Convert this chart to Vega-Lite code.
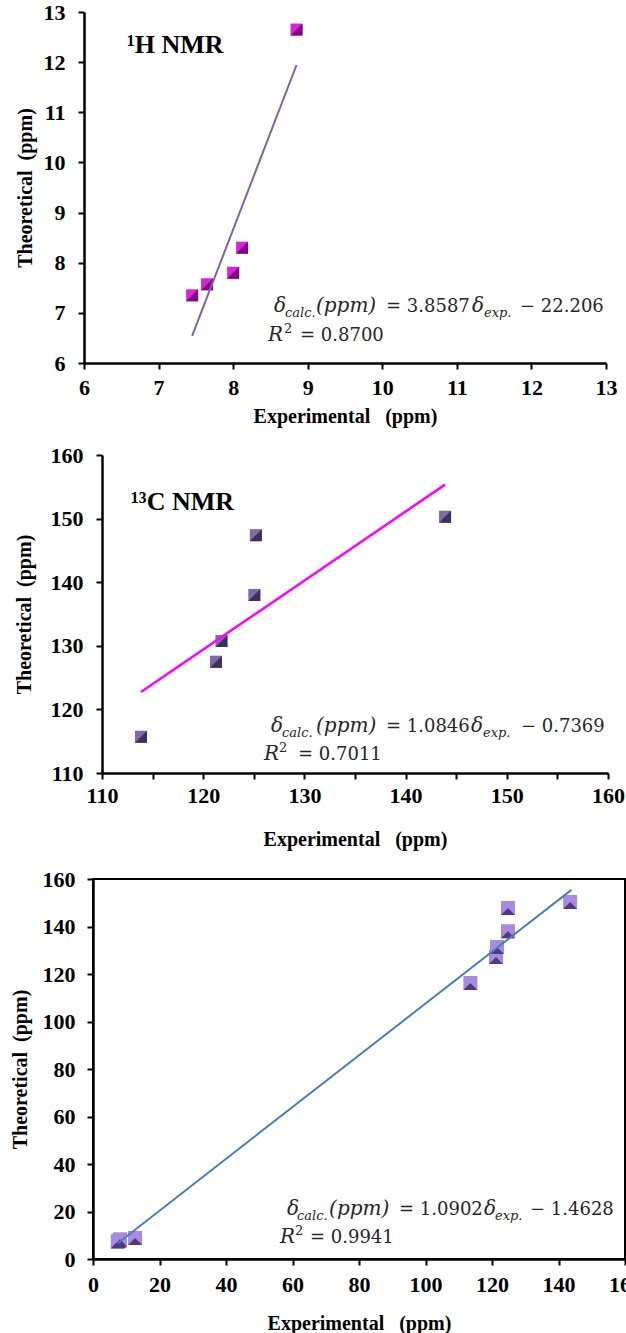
{
  "$schema": "https://vega.github.io/schema/vega-lite/v6.json",
  "padding": {"left": 0, "top": 1, "right": 0, "bottom": 0},
  "background": "white",
  "spacing": 18,
  "config": {
    "axis": {
      "domainColor": "black", "domainWidth": 2.5, "tickColor": "black", "tickWidth": 2, "tickSize": 6,
      "labelFont": "Liberation Serif", "labelFontWeight": "bold", "labelFontSize": 22, "labelColor": "black",
      "titleFont": "Liberation Serif", "titleFontWeight": "bold", "titleFontSize": 20, "titleColor": "black",
      "grid": false, "labelFlush": false, "labelOverlap": false, "labelBound": false
    }
  },
  "datasets": {
    "spacer": [{"k": 0}],
    "h_pts": [
      {"x": 7.45, "y": 7.35}, {"x": 7.65, "y": 7.57}, {"x": 8.0, "y": 7.8}, {"x": 8.12, "y": 8.3}, {"x": 8.85, "y": 12.65}
    ],
    "h_line": [{"x": 7.45, "y": 6.541}, {"x": 8.85, "y": 11.943}],
    "h_title": [{"x": 6.577, "y": 12.18, "t": "¹H NMR"}],
    "h_eq": [
      {"x": 8.548, "y": 7.017, "t": "δ", "part": "sym"},
      {"x": 8.695, "y": 7.017, "t": "calc.", "part": "sub"},
      {"x": 9.111, "y": 7.017, "t": "(ppm)", "part": "sym"},
      {"x": 10.05, "y": 7.017, "t": "= 3.8587", "part": "num"},
      {"x": 11.203, "y": 7.017, "t": "δ", "part": "sym"},
      {"x": 11.364, "y": 7.017, "t": "exp.", "part": "sub"},
      {"x": 11.847, "y": 7.017, "t": "− 22.206", "part": "num"},
      {"x": 8.467, "y": 6.438, "t": "R", "part": "sym"},
      {"x": 8.682, "y": 6.438, "t": "2", "part": "sup"},
      {"x": 8.897, "y": 6.438, "t": "= 0.8700", "part": "num"}
    ],
    "c_pts": [
      {"x": 113.85, "y": 115.7}, {"x": 121.26, "y": 127.5}, {"x": 121.8, "y": 130.75},
      {"x": 125.05, "y": 138.0}, {"x": 125.2, "y": 147.4}, {"x": 143.9, "y": 150.3}
    ],
    "c_line": [{"x": 113.85, "y": 122.74}, {"x": 143.9, "y": 155.34}],
    "c_title": [{"x": 112.87, "y": 151.35, "t": "¹³C NMR"}],
    "c_eq": [
      {"x": 126.70, "y": 116.45, "t": "δ", "part": "sym"},
      {"x": 127.79, "y": 116.45, "t": "calc.", "part": "sub"},
      {"x": 131.15, "y": 116.45, "t": "(ppm)", "part": "sym"},
      {"x": 138.06, "y": 116.45, "t": "= 1.0846", "part": "num"},
      {"x": 146.46, "y": 116.45, "t": "δ", "part": "sym"},
      {"x": 147.65, "y": 116.45, "t": "exp.", "part": "sub"},
      {"x": 151.40, "y": 116.45, "t": "− 0.7369", "part": "num"},
      {"x": 126.01, "y": 112.04, "t": "R", "part": "sym"},
      {"x": 127.49, "y": 112.04, "t": "2", "part": "sup"},
      {"x": 129.37, "y": 112.04, "t": "= 0.7011", "part": "num"}
    ],
    "a_pts": [
      {"x": 7.45, "y": 7.35}, {"x": 7.65, "y": 7.57}, {"x": 8.0, "y": 7.8}, {"x": 8.12, "y": 8.3}, {"x": 12.65, "y": 8.85},
      {"x": 113.5, "y": 116.2}, {"x": 121.2, "y": 127.2}, {"x": 121.5, "y": 131.4},
      {"x": 124.8, "y": 138.0}, {"x": 124.8, "y": 147.8}, {"x": 143.5, "y": 150.3}
    ],
    "a_line": [{"x": 7.45, "y": 6.659}, {"x": 143.9, "y": 155.42}],
    "a_eq": [
      {"x": 58.35, "y": 18.53, "t": "δ", "part": "sym"},
      {"x": 61.35, "y": 18.53, "t": "calc.", "part": "sub"},
      {"x": 71.0, "y": 18.53, "t": "(ppm)", "part": "sym"},
      {"x": 92.03, "y": 18.53, "t": "= 1.0902", "part": "num"},
      {"x": 117.59, "y": 18.53, "t": "δ", "part": "sym"},
      {"x": 120.90, "y": 18.53, "t": "exp.", "part": "sub"},
      {"x": 131.43, "y": 18.53, "t": "− 1.4628", "part": "num"},
      {"x": 56.24, "y": 6.74, "t": "R", "part": "sym"},
      {"x": 60.75, "y": 6.74, "t": "2", "part": "sup"},
      {"x": 65.26, "y": 6.74, "t": "= 0.9941", "part": "num"}
    ]
  },
  "vconcat": [
    {
      "spacing": 0,
      "hconcat": [
        {"width": 15, "height": 1, "view": {"stroke": null}, "data": {"name": "spacer"}, "mark": {"type": "point", "opacity": 0}, "encoding": {}},
        {
          "width": 522, "height": 351,
          "view": {"stroke": null},
          "layer": [
            {
              "data": {"name": "h_pts"},
              "mark": {"type": "point", "shape": "square", "filled": true, "size": 144, "color": "#DA22DA", "opacity": 1},
              "encoding": {
                "x": {"field": "x", "type": "quantitative", "scale": {"domain": [6, 13], "nice": false, "zero": false},
                      "axis": {"values": [6, 7, 8, 9, 10, 11, 12, 13], "format": "d", "labelPadding": 8, "titlePadding": 8},
                      "title": "Experimental\u00a0\u00a0 (ppm)"},
                "y": {"field": "y", "type": "quantitative", "scale": {"domain": [6, 13], "nice": false, "zero": false},
                      "axis": {"values": [6, 7, 8, 9, 10, 11, 12, 13], "format": "d", "labelPadding": 13, "titlePadding": 8},
                      "title": "Theoretical\u00a0 (ppm)"}
              }
            },
            {
              "data": {"name": "h_pts"},
              "mark": {"type": "point", "shape": "M1,-1L1,1L-1,1Z", "filled": true, "size": 144, "color": "#7E0B7E", "opacity": 1},
              "encoding": {"x": {"field": "x", "type": "quantitative"}, "y": {"field": "y", "type": "quantitative"}}
            },
            {
              "data": {"name": "h_line"},
              "mark": {"type": "line", "color": "#8064A2", "strokeWidth": 2},
              "encoding": {"x": {"field": "x", "type": "quantitative"}, "y": {"field": "y", "type": "quantitative"}}
            },
            {
              "data": {"name": "h_title"},
              "mark": {"type": "text", "align": "left", "baseline": "alphabetic", "font": "Liberation Serif", "fontWeight": "bold", "fontSize": 26, "color": "black"},
              "encoding": {"x": {"field": "x", "type": "quantitative"}, "y": {"field": "y", "type": "quantitative"}, "text": {"field": "t"}}
            },
            {
              "data": {"name": "h_eq"}, "transform": [{"filter": "datum.part == 'sym'"}],
              "mark": {"type": "text", "align": "left", "baseline": "alphabetic", "font": "DejaVu Serif", "fontStyle": "italic", "fontSize": 20, "color": "#262626"},
              "encoding": {"x": {"field": "x", "type": "quantitative"}, "y": {"field": "y", "type": "quantitative"}, "text": {"field": "t"}}
            },
            {
              "data": {"name": "h_eq"}, "transform": [{"filter": "datum.part == 'num'"}],
              "mark": {"type": "text", "align": "left", "baseline": "alphabetic", "font": "DejaVu Serif", "fontSize": 18, "color": "#262626"},
              "encoding": {"x": {"field": "x", "type": "quantitative"}, "y": {"field": "y", "type": "quantitative"}, "text": {"field": "t"}}
            },
            {
              "data": {"name": "h_eq"}, "transform": [{"filter": "datum.part == 'sub'"}],
              "mark": {"type": "text", "align": "left", "baseline": "alphabetic", "dy": 5, "font": "DejaVu Serif", "fontStyle": "italic", "fontSize": 13, "color": "#262626"},
              "encoding": {"x": {"field": "x", "type": "quantitative"}, "y": {"field": "y", "type": "quantitative"}, "text": {"field": "t"}}
            },
            {
              "data": {"name": "h_eq"}, "transform": [{"filter": "datum.part == 'sup'"}],
              "mark": {"type": "text", "align": "left", "baseline": "alphabetic", "dy": -8, "font": "DejaVu Serif", "fontSize": 13, "color": "#262626"},
              "encoding": {"x": {"field": "x", "type": "quantitative"}, "y": {"field": "y", "type": "quantitative"}, "text": {"field": "t"}}
            }
          ]
        }
      ]
    },
    {
      "spacing": 0,
      "hconcat": [
        {"width": 14, "height": 1, "view": {"stroke": null}, "data": {"name": "spacer"}, "mark": {"type": "point", "opacity": 0}, "encoding": {}},
        {
          "width": 506, "height": 318,
          "view": {"stroke": null},
          "layer": [
            {
              "data": {"name": "c_pts"},
              "mark": {"type": "point", "shape": "square", "filled": true, "size": 144, "color": "#7F69A8", "opacity": 1},
              "encoding": {
                "x": {"field": "x", "type": "quantitative", "scale": {"domain": [110, 160], "nice": false, "zero": false},
                      "axis": {"values": [110, 115, 120, 125, 130, 135, 140, 145, 150, 155, 160], "labelExpr": "datum.value % 10 == 0 ? datum.label : ''", "labelPadding": 6, "titlePadding": 23},
                      "title": "Experimental\u00a0\u00a0 (ppm)"},
                "y": {"field": "y", "type": "quantitative", "scale": {"domain": [110, 160], "nice": false, "zero": false},
                      "axis": {"values": [110, 115, 120, 125, 130, 135, 140, 145, 150, 155, 160], "labelExpr": "datum.value % 10 == 0 ? datum.label : ''", "labelPadding": 13, "titlePadding": 16},
                      "title": "Theoretical\u00a0 (ppm)"}
              }
            },
            {
              "data": {"name": "c_pts"},
              "mark": {"type": "point", "shape": "M1,-1L1,1L-1,1Z", "filled": true, "size": 144, "color": "#3E2E5C", "opacity": 1},
              "encoding": {"x": {"field": "x", "type": "quantitative"}, "y": {"field": "y", "type": "quantitative"}}
            },
            {
              "data": {"name": "c_line"},
              "mark": {"type": "line", "color": "#FF00FF", "strokeWidth": 2.5},
              "encoding": {"x": {"field": "x", "type": "quantitative"}, "y": {"field": "y", "type": "quantitative"}}
            },
            {
              "data": {"name": "c_title"},
              "mark": {"type": "text", "align": "left", "baseline": "alphabetic", "font": "Liberation Serif", "fontWeight": "bold", "fontSize": 26, "color": "black"},
              "encoding": {"x": {"field": "x", "type": "quantitative"}, "y": {"field": "y", "type": "quantitative"}, "text": {"field": "t"}}
            },
            {
              "data": {"name": "c_eq"}, "transform": [{"filter": "datum.part == 'sym'"}],
              "mark": {"type": "text", "align": "left", "baseline": "alphabetic", "font": "DejaVu Serif", "fontStyle": "italic", "fontSize": 20, "color": "#262626"},
              "encoding": {"x": {"field": "x", "type": "quantitative"}, "y": {"field": "y", "type": "quantitative"}, "text": {"field": "t"}}
            },
            {
              "data": {"name": "c_eq"}, "transform": [{"filter": "datum.part == 'num'"}],
              "mark": {"type": "text", "align": "left", "baseline": "alphabetic", "font": "DejaVu Serif", "fontSize": 18, "color": "#262626"},
              "encoding": {"x": {"field": "x", "type": "quantitative"}, "y": {"field": "y", "type": "quantitative"}, "text": {"field": "t"}}
            },
            {
              "data": {"name": "c_eq"}, "transform": [{"filter": "datum.part == 'sub'"}],
              "mark": {"type": "text", "align": "left", "baseline": "alphabetic", "dy": 5, "font": "DejaVu Serif", "fontStyle": "italic", "fontSize": 13, "color": "#262626"},
              "encoding": {"x": {"field": "x", "type": "quantitative"}, "y": {"field": "y", "type": "quantitative"}, "text": {"field": "t"}}
            },
            {
              "data": {"name": "c_eq"}, "transform": [{"filter": "datum.part == 'sup'"}],
              "mark": {"type": "text", "align": "left", "baseline": "alphabetic", "dy": -8, "font": "DejaVu Serif", "fontSize": 13, "color": "#262626"},
              "encoding": {"x": {"field": "x", "type": "quantitative"}, "y": {"field": "y", "type": "quantitative"}, "text": {"field": "t"}}
            }
          ]
        }
      ]
    },
    {
      "spacing": 0,
      "hconcat": [
        {"width": 9, "height": 1, "view": {"stroke": null}, "data": {"name": "spacer"}, "mark": {"type": "point", "opacity": 0}, "encoding": {}},
        {
          "width": 532, "height": 380,
          "view": {"stroke": "black", "strokeWidth": 2},
          "layer": [
            {
              "data": {"name": "a_pts"},
              "mark": {"type": "point", "shape": "square", "filled": true, "size": 196, "color": "#A68BE0", "opacity": 1},
              "encoding": {
                "x": {"field": "x", "type": "quantitative", "scale": {"domain": [0, 160], "nice": false, "zero": false},
                      "axis": {"values": [0, 10, 20, 30, 40, 50, 60, 70, 80, 90, 100, 110, 120, 130, 140, 150, 160], "labelExpr": "datum.value % 20 == 0 ? datum.label : ''", "labelPadding": 9, "titlePadding": 18},
                      "title": "Experimental\u00a0\u00a0 (ppm)"},
                "y": {"field": "y", "type": "quantitative", "scale": {"domain": [0, 160], "nice": false, "zero": false},
                      "axis": {"values": [0, 10, 20, 30, 40, 50, 60, 70, 80, 90, 100, 110, 120, 130, 140, 150, 160], "labelExpr": "datum.value % 20 == 0 ? datum.label : ''", "labelPadding": 12, "titlePadding": 12},
                      "title": "Theoretical\u00a0 (ppm)"}
              }
            },
            {
              "data": {"name": "a_pts"},
              "mark": {"type": "point", "shape": "M1,-1L0,0L1,1L-1,1Z", "filled": true, "size": 196, "color": "#4F3A80", "opacity": 1},
              "encoding": {"x": {"field": "x", "type": "quantitative"}, "y": {"field": "y", "type": "quantitative"}}
            },
            {
              "data": {"name": "a_line"},
              "mark": {"type": "line", "color": "#4A7EBB", "strokeWidth": 2},
              "encoding": {"x": {"field": "x", "type": "quantitative"}, "y": {"field": "y", "type": "quantitative"}}
            },
            {
              "data": {"name": "a_eq"}, "transform": [{"filter": "datum.part == 'sym'"}],
              "mark": {"type": "text", "align": "left", "baseline": "alphabetic", "font": "DejaVu Serif", "fontStyle": "italic", "fontSize": 20, "color": "#262626"},
              "encoding": {"x": {"field": "x", "type": "quantitative"}, "y": {"field": "y", "type": "quantitative"}, "text": {"field": "t"}}
            },
            {
              "data": {"name": "a_eq"}, "transform": [{"filter": "datum.part == 'num'"}],
              "mark": {"type": "text", "align": "left", "baseline": "alphabetic", "font": "DejaVu Serif", "fontSize": 18, "color": "#262626"},
              "encoding": {"x": {"field": "x", "type": "quantitative"}, "y": {"field": "y", "type": "quantitative"}, "text": {"field": "t"}}
            },
            {
              "data": {"name": "a_eq"}, "transform": [{"filter": "datum.part == 'sub'"}],
              "mark": {"type": "text", "align": "left", "baseline": "alphabetic", "dy": 5, "font": "DejaVu Serif", "fontStyle": "italic", "fontSize": 13, "color": "#262626"},
              "encoding": {"x": {"field": "x", "type": "quantitative"}, "y": {"field": "y", "type": "quantitative"}, "text": {"field": "t"}}
            },
            {
              "data": {"name": "a_eq"}, "transform": [{"filter": "datum.part == 'sup'"}],
              "mark": {"type": "text", "align": "left", "baseline": "alphabetic", "dy": -8, "font": "DejaVu Serif", "fontSize": 13, "color": "#262626"},
              "encoding": {"x": {"field": "x", "type": "quantitative"}, "y": {"field": "y", "type": "quantitative"}, "text": {"field": "t"}}
            }
          ]
        }
      ]
    }
  ]
}
